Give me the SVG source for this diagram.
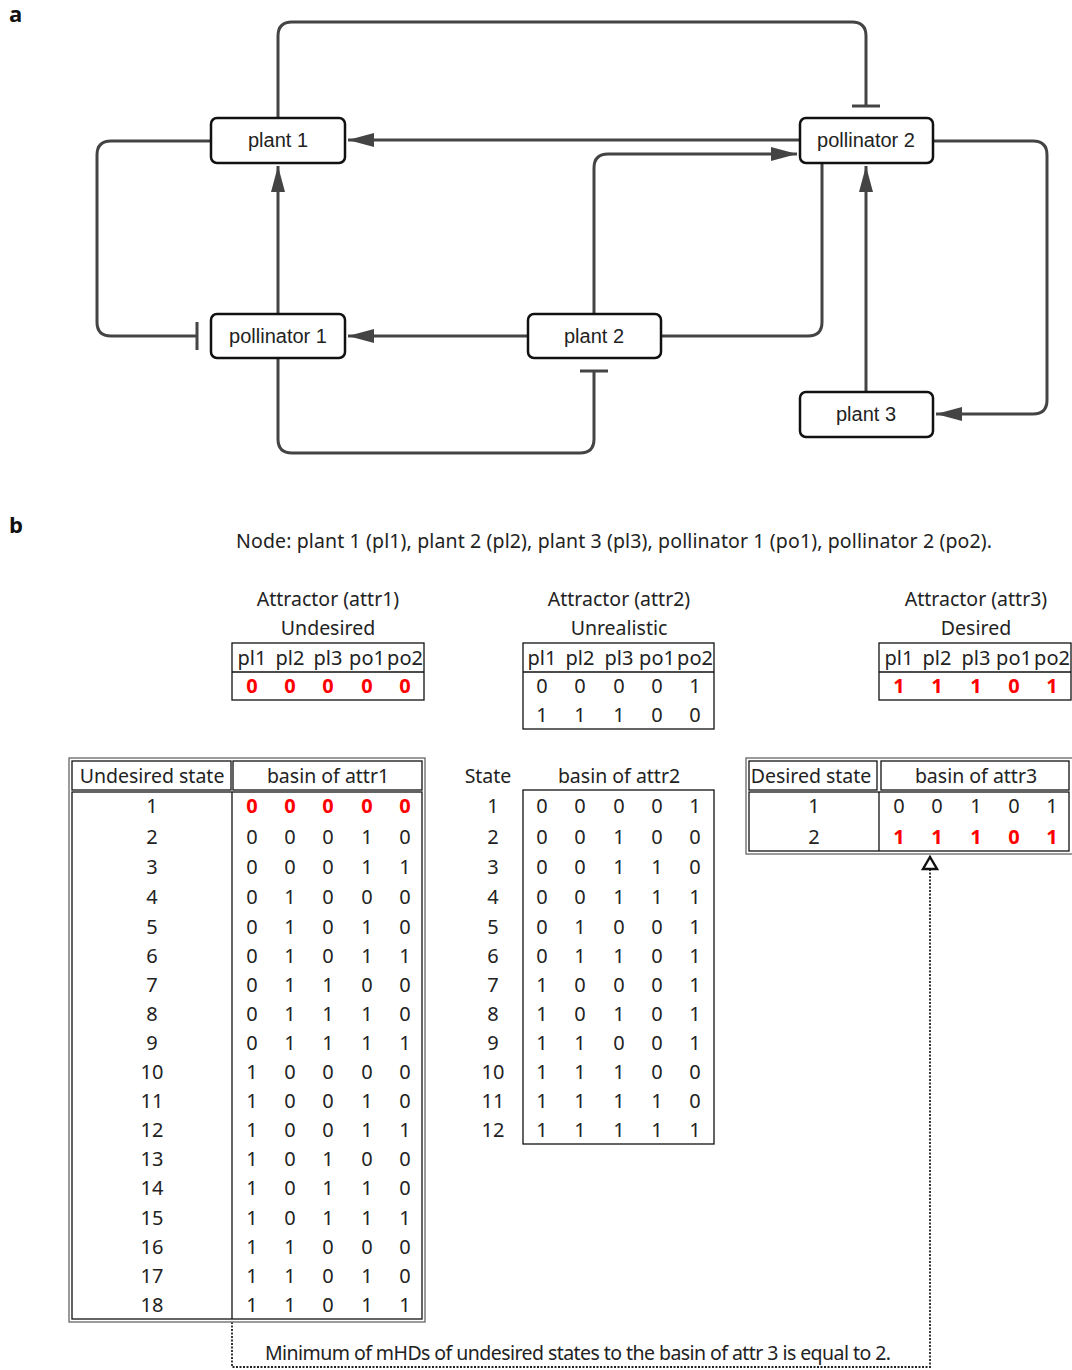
<svg xmlns="http://www.w3.org/2000/svg" width="1072" height="1370" viewBox="0 0 1072 1370">
<style>
.lbl{font-family:"Open Sans","Noto Sans",sans-serif;font-weight:bold;font-size:22px;fill:#111}
.node rect{fill:#fff;stroke:#111;stroke-width:2.5}
.node text{font-family:"Liberation Sans",Arial,sans-serif;font-size:20px;fill:#222;text-anchor:middle}
.edge{fill:none;stroke:#444;stroke-width:3}
.bar{stroke:#444;stroke-width:3}
.t{font-family:"Noto Sans","Open Sans",sans-serif;font-size:19.5px;fill:#222;text-anchor:middle}
.d{font-family:"Noto Sans","Open Sans",sans-serif;font-size:20px;fill:#222;text-anchor:middle}
.r{font-family:"Noto Sans","Open Sans",sans-serif;font-size:20px;fill:#f00;font-weight:bold;text-anchor:middle}
.tb{fill:none;stroke:#111;stroke-width:1.3}
.tbo{fill:none;stroke:#666;stroke-width:1.3}
.dot{fill:none;stroke:#222;stroke-width:1.8;stroke-dasharray:2 1.5}
</style>
<defs>
<marker id="arr" viewBox="0 0 26 14" refX="26" refY="7" markerWidth="26" markerHeight="14" markerUnits="userSpaceOnUse" orient="auto">
<path d="M0,0 L26,7 L0,14 z" fill="#444"/>
</marker>
<marker id="open" viewBox="0 0 16 18" refX="15" refY="9" markerWidth="16" markerHeight="18" markerUnits="userSpaceOnUse" orient="auto">
<path d="M2,2 L14,9 L2,16 z" fill="#fff" stroke="#111" stroke-width="2.4"/>
</marker>
</defs>
<rect width="1072" height="1370" fill="#fff"/>
<text class="lbl" x="9" y="22">a</text>
<text class="lbl" x="9" y="533">b</text>

<g id="connectors">
<path class="edge" d="M278,118 V36 Q278,22 292,22 H852 Q866,22 866,36 V106"/>
<path class="bar" d="M852,106 H880"/>
<path class="edge" d="M800,140 H348" marker-end="url(#arr)"/>
<path class="edge" d="M211,141 H111 Q97,141 97,155 V322 Q97,336 111,336 H197"/>
<path class="bar" d="M197,322 V350"/>
<path class="edge" d="M278,314 V166" marker-end="url(#arr)"/>
<path class="edge" d="M528,336 H348" marker-end="url(#arr)"/>
<path class="edge" d="M594,314 V168 Q594,154 608,154 H797" marker-end="url(#arr)"/>
<path class="edge" d="M822,163 V322 Q822,336 808,336 H661"/>
<path class="edge" d="M866,392 V166" marker-end="url(#arr)"/>
<path class="edge" d="M933,141 H1033 Q1047,141 1047,155 V400 Q1047,414 1033,414 H936" marker-end="url(#arr)"/>
<path class="edge" d="M278,358 V439 Q278,453 292,453 H580 Q594,453 594,439 V371"/>
<path class="bar" d="M580,371 H608"/>
<path class="dot" d="M232,1322 V1367 H930 V856" marker-end="url(#open)"/>
</g>

<g id="plant1" class="node"><rect x="211" y="118" width="134" height="45" rx="6"/><text x="278" y="147">plant 1</text></g>
<g id="pollinator2" class="node"><rect x="800" y="118" width="133" height="45" rx="6"/><text x="866" y="147">pollinator 2</text></g>
<g id="pollinator1" class="node"><rect x="211" y="314" width="134" height="44" rx="6"/><text x="278" y="343">pollinator 1</text></g>
<g id="plant2" class="node"><rect x="528" y="314" width="133" height="44" rx="6"/><text x="594" y="343">plant 2</text></g>
<g id="plant3" class="node"><rect x="800" y="392" width="133" height="45" rx="6"/><text x="866" y="421">plant 3</text></g>

<text class="t" x="614" y="548" textLength="756">Node: plant 1 (pl1), plant 2 (pl2), plant 3 (pl3), pollinator 1 (po1), pollinator 2 (po2).</text>

<g id="attr1">
<text class="t" x="328" y="606">Attractor (attr1)</text>
<text class="t" x="328" y="635">Undesired</text>
<rect class="tb" x="232" y="643" width="192" height="57"/>
<line class="tb" x1="232" y1="672" x2="424" y2="672"/>
<text class="d" y="665"><tspan x="252">pl1</tspan><tspan x="290">pl2</tspan><tspan x="328">pl3</tspan><tspan x="367">po1</tspan><tspan x="405">po2</tspan></text>
<text class="r" y="693"><tspan x="252">0</tspan><tspan x="290">0</tspan><tspan x="328">0</tspan><tspan x="367">0</tspan><tspan x="405">0</tspan></text>
</g>

<g id="attr2">
<text class="t" x="619" y="606">Attractor (attr2)</text>
<text class="t" x="619" y="635">Unrealistic</text>
<rect class="tb" x="523" y="643" width="191" height="86"/>
<line class="tb" x1="523" y1="672" x2="714" y2="672"/>
<text class="d" y="665"><tspan x="542">pl1</tspan><tspan x="580">pl2</tspan><tspan x="619">pl3</tspan><tspan x="657">po1</tspan><tspan x="695">po2</tspan></text>
<text class="d" y="693"><tspan x="542">0</tspan><tspan x="580">0</tspan><tspan x="619">0</tspan><tspan x="657">0</tspan><tspan x="695">1</tspan></text>
<text class="d" y="722"><tspan x="542">1</tspan><tspan x="580">1</tspan><tspan x="619">1</tspan><tspan x="657">0</tspan><tspan x="695">0</tspan></text>
</g>

<g id="attr3">
<text class="t" x="976" y="606">Attractor (attr3)</text>
<text class="t" x="976" y="635">Desired</text>
<rect class="tb" x="879" y="643" width="192" height="57"/>
<line class="tb" x1="879" y1="672" x2="1071" y2="672"/>
<text class="d" y="665"><tspan x="899">pl1</tspan><tspan x="937">pl2</tspan><tspan x="976">pl3</tspan><tspan x="1014">po1</tspan><tspan x="1052">po2</tspan></text>
<text class="r" y="693"><tspan x="899">1</tspan><tspan x="937">1</tspan><tspan x="976">1</tspan><tspan x="1014">0</tspan><tspan x="1052">1</tspan></text>
</g>

<g id="basin1">
<rect class="tbo" x="69" y="758" width="356" height="564"/>
<rect class="tb" x="72" y="761" width="159" height="29"/>
<rect class="tb" x="233" y="761" width="189" height="29"/>
<rect class="tb" x="72" y="792" width="350" height="527"/>
<line class="tb" x1="232" y1="792" x2="232" y2="1319"/>
<text class="t" x="152" y="783">Undesired state</text>
<text class="t" x="328" y="783">basin of attr1</text>
<text class="d" x="152" y="813">1</text>
<text class="r" y="813"><tspan x="252">0</tspan><tspan x="290">0</tspan><tspan x="328">0</tspan><tspan x="367">0</tspan><tspan x="405">0</tspan></text>
<text class="d" x="152" y="844">2</text><text class="d" y="844"><tspan x="252">0</tspan><tspan x="290">0</tspan><tspan x="328">0</tspan><tspan x="367">1</tspan><tspan x="405">0</tspan></text>
<text class="d" x="152" y="874">3</text><text class="d" y="874"><tspan x="252">0</tspan><tspan x="290">0</tspan><tspan x="328">0</tspan><tspan x="367">1</tspan><tspan x="405">1</tspan></text>
<text class="d" x="152" y="904">4</text><text class="d" y="904"><tspan x="252">0</tspan><tspan x="290">1</tspan><tspan x="328">0</tspan><tspan x="367">0</tspan><tspan x="405">0</tspan></text>
<text class="d" x="152" y="934">5</text><text class="d" y="934"><tspan x="252">0</tspan><tspan x="290">1</tspan><tspan x="328">0</tspan><tspan x="367">1</tspan><tspan x="405">0</tspan></text>
<text class="d" x="152" y="963">6</text><text class="d" y="963"><tspan x="252">0</tspan><tspan x="290">1</tspan><tspan x="328">0</tspan><tspan x="367">1</tspan><tspan x="405">1</tspan></text>
<text class="d" x="152" y="992">7</text><text class="d" y="992"><tspan x="252">0</tspan><tspan x="290">1</tspan><tspan x="328">1</tspan><tspan x="367">0</tspan><tspan x="405">0</tspan></text>
<text class="d" x="152" y="1021">8</text><text class="d" y="1021"><tspan x="252">0</tspan><tspan x="290">1</tspan><tspan x="328">1</tspan><tspan x="367">1</tspan><tspan x="405">0</tspan></text>
<text class="d" x="152" y="1050">9</text><text class="d" y="1050"><tspan x="252">0</tspan><tspan x="290">1</tspan><tspan x="328">1</tspan><tspan x="367">1</tspan><tspan x="405">1</tspan></text>
<text class="d" x="152" y="1079">10</text><text class="d" y="1079"><tspan x="252">1</tspan><tspan x="290">0</tspan><tspan x="328">0</tspan><tspan x="367">0</tspan><tspan x="405">0</tspan></text>
<text class="d" x="152" y="1108">11</text><text class="d" y="1108"><tspan x="252">1</tspan><tspan x="290">0</tspan><tspan x="328">0</tspan><tspan x="367">1</tspan><tspan x="405">0</tspan></text>
<text class="d" x="152" y="1137">12</text><text class="d" y="1137"><tspan x="252">1</tspan><tspan x="290">0</tspan><tspan x="328">0</tspan><tspan x="367">1</tspan><tspan x="405">1</tspan></text>
<text class="d" x="152" y="1166">13</text><text class="d" y="1166"><tspan x="252">1</tspan><tspan x="290">0</tspan><tspan x="328">1</tspan><tspan x="367">0</tspan><tspan x="405">0</tspan></text>
<text class="d" x="152" y="1195">14</text><text class="d" y="1195"><tspan x="252">1</tspan><tspan x="290">0</tspan><tspan x="328">1</tspan><tspan x="367">1</tspan><tspan x="405">0</tspan></text>
<text class="d" x="152" y="1225">15</text><text class="d" y="1225"><tspan x="252">1</tspan><tspan x="290">0</tspan><tspan x="328">1</tspan><tspan x="367">1</tspan><tspan x="405">1</tspan></text>
<text class="d" x="152" y="1254">16</text><text class="d" y="1254"><tspan x="252">1</tspan><tspan x="290">1</tspan><tspan x="328">0</tspan><tspan x="367">0</tspan><tspan x="405">0</tspan></text>
<text class="d" x="152" y="1283">17</text><text class="d" y="1283"><tspan x="252">1</tspan><tspan x="290">1</tspan><tspan x="328">0</tspan><tspan x="367">1</tspan><tspan x="405">0</tspan></text>
<text class="d" x="152" y="1312">18</text><text class="d" y="1312"><tspan x="252">1</tspan><tspan x="290">1</tspan><tspan x="328">0</tspan><tspan x="367">1</tspan><tspan x="405">1</tspan></text>
</g>

<g id="basin2">
<rect class="tb" x="523" y="790" width="191" height="354"/>
<text class="t" x="488" y="783">State</text>
<text class="t" x="619" y="783">basin of attr2</text>
<text class="d" x="493" y="813">1</text><text class="d" y="813"><tspan x="542">0</tspan><tspan x="580">0</tspan><tspan x="619">0</tspan><tspan x="657">0</tspan><tspan x="695">1</tspan></text>
<text class="d" x="493" y="844">2</text><text class="d" y="844"><tspan x="542">0</tspan><tspan x="580">0</tspan><tspan x="619">1</tspan><tspan x="657">0</tspan><tspan x="695">0</tspan></text>
<text class="d" x="493" y="874">3</text><text class="d" y="874"><tspan x="542">0</tspan><tspan x="580">0</tspan><tspan x="619">1</tspan><tspan x="657">1</tspan><tspan x="695">0</tspan></text>
<text class="d" x="493" y="904">4</text><text class="d" y="904"><tspan x="542">0</tspan><tspan x="580">0</tspan><tspan x="619">1</tspan><tspan x="657">1</tspan><tspan x="695">1</tspan></text>
<text class="d" x="493" y="934">5</text><text class="d" y="934"><tspan x="542">0</tspan><tspan x="580">1</tspan><tspan x="619">0</tspan><tspan x="657">0</tspan><tspan x="695">1</tspan></text>
<text class="d" x="493" y="963">6</text><text class="d" y="963"><tspan x="542">0</tspan><tspan x="580">1</tspan><tspan x="619">1</tspan><tspan x="657">0</tspan><tspan x="695">1</tspan></text>
<text class="d" x="493" y="992">7</text><text class="d" y="992"><tspan x="542">1</tspan><tspan x="580">0</tspan><tspan x="619">0</tspan><tspan x="657">0</tspan><tspan x="695">1</tspan></text>
<text class="d" x="493" y="1021">8</text><text class="d" y="1021"><tspan x="542">1</tspan><tspan x="580">0</tspan><tspan x="619">1</tspan><tspan x="657">0</tspan><tspan x="695">1</tspan></text>
<text class="d" x="493" y="1050">9</text><text class="d" y="1050"><tspan x="542">1</tspan><tspan x="580">1</tspan><tspan x="619">0</tspan><tspan x="657">0</tspan><tspan x="695">1</tspan></text>
<text class="d" x="493" y="1079">10</text><text class="d" y="1079"><tspan x="542">1</tspan><tspan x="580">1</tspan><tspan x="619">1</tspan><tspan x="657">0</tspan><tspan x="695">0</tspan></text>
<text class="d" x="493" y="1108">11</text><text class="d" y="1108"><tspan x="542">1</tspan><tspan x="580">1</tspan><tspan x="619">1</tspan><tspan x="657">1</tspan><tspan x="695">0</tspan></text>
<text class="d" x="493" y="1137">12</text><text class="d" y="1137"><tspan x="542">1</tspan><tspan x="580">1</tspan><tspan x="619">1</tspan><tspan x="657">1</tspan><tspan x="695">1</tspan></text>
</g>

<g id="basin3">
<rect class="tbo" x="746" y="758" width="330" height="96"/>
<rect class="tb" x="749" y="761" width="128" height="29"/>
<rect class="tb" x="881" y="761" width="188" height="29"/>
<rect class="tb" x="749" y="792" width="320" height="59"/>
<line class="tb" x1="879" y1="792" x2="879" y2="851"/>
<text class="t" x="811" y="783">Desired state</text>
<text class="t" x="976" y="783">basin of attr3</text>
<text class="d" x="814" y="813">1</text><text class="d" y="813"><tspan x="899">0</tspan><tspan x="937">0</tspan><tspan x="976">1</tspan><tspan x="1014">0</tspan><tspan x="1052">1</tspan></text>
<text class="d" x="814" y="844">2</text><text class="r" y="844"><tspan x="899">1</tspan><tspan x="937">1</tspan><tspan x="976">1</tspan><tspan x="1014">0</tspan><tspan x="1052">1</tspan></text>
</g>

<text class="t" x="578" y="1360" textLength="626">Minimum of mHDs of undesired states to the basin of attr 3 is equal to 2.</text>
</svg>
